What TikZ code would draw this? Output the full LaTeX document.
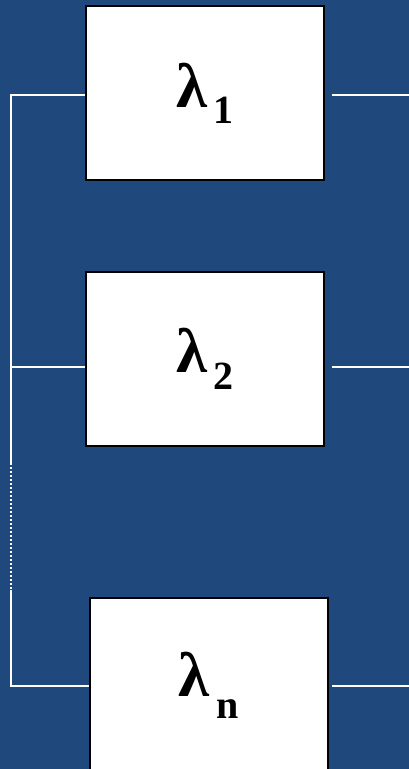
\documentclass[tikz,border=0pt]{standalone}
\usepackage{fontspec}
\setmainfont{Liberation Serif}
\definecolor{slideblue}{RGB}{31,73,125}
\newcommand{\lamsub}[2][17pt]{{\fontsize{63}{63}\selectfont\bfseries λ}\hspace{7pt}\raisebox{-#1}{\fontsize{40}{40}\selectfont\bfseries #2}}

\begin{document}
\begin{tikzpicture}[x=1pt,y=-1pt,
    box/.style={%
      draw          = black,
      fill          = white,
      line width    = 1.5pt,
      minimum width = 238pt,
      minimum height= 174pt,
      inner sep     = 0pt,
      align         = center,
    },
    wire/.style={white, line width=1.8pt},
    dotwire/.style={white, line width=1.8pt, dash pattern=on 2pt off 2pt},
  ]

  \fill[slideblue] (0,0) rectangle (409,769);
  \useasboundingbox (0,0) rectangle (409,769);

  % the three branches
  \node[box] (lam1) at (205,93)  {\lamsub[16pt]{1}};
  \node[box] (lam2) at (205,359) {\lamsub{2}};
  \node[box] (lamn) at (209,685) {\lamsub[22pt]{n}};

  % rows and the left bus
  \coordinate (bus1) at (11,95);
  \coordinate (bus2) at (11,367);
  \coordinate (busn) at (11,686);
  \coordinate (gapa) at (11,463);
  \coordinate (gapb) at (11,590);
  \coordinate (out1) at (409,95);
  \coordinate (out2) at (409,367);
  \coordinate (outn) at (409,686);

  \draw[wire] (lam1.west |- bus1) -- (bus1) -- (bus2) -- (gapa);
  \draw[dotwire] (gapa) -- (gapb);
  \draw[wire] (gapb) -- (busn) -- (lamn.west |- busn);
  \draw[wire] (lam2.west |- bus2) -- (bus2);

  \draw[wire] ([xshift=7pt]lam1.east |- out1) -- (out1);
  \draw[wire] ([xshift=7pt]lam2.east |- out2) -- (out2);
  \draw[wire] ([xshift=3pt]lamn.east |- outn) -- (outn);

\end{tikzpicture}
\end{document}
